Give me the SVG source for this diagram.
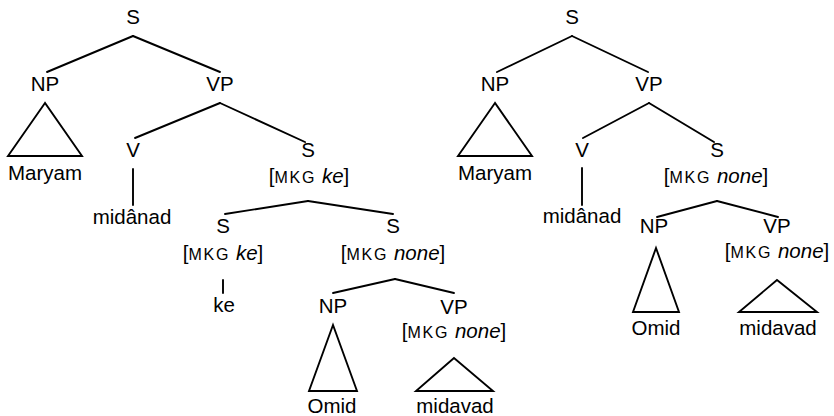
<svg xmlns="http://www.w3.org/2000/svg" width="834" height="416" viewBox="0 0 834 416">
<style>
text{font-family:"Liberation Sans",Arial,sans-serif;font-size:20.5px;fill:#000;text-anchor:middle}
.sc{font-size:16px;letter-spacing:1.8px}
.it{font-style:italic}
line,polygon{stroke:#000;stroke-width:1.9;fill:none;stroke-linecap:round;stroke-linejoin:miter}
</style>
<rect width="834" height="416" fill="#fff"/>
<g id="connectors">
<line x1="133" y1="36" x2="47" y2="72"/>
<line x1="133" y1="36" x2="220" y2="72"/>
<line x1="220" y1="103" x2="135" y2="138"/>
<line x1="220" y1="103" x2="305" y2="142"/>
<line x1="133" y1="169" x2="133" y2="205"/>
<line x1="308" y1="201" x2="225" y2="214"/>
<line x1="308" y1="201" x2="393" y2="214"/>
<line x1="223" y1="280" x2="223" y2="293"/>
<line x1="395" y1="279" x2="333" y2="293"/>
<line x1="395" y1="279" x2="454" y2="293"/>
<line x1="572" y1="36" x2="497" y2="72"/>
<line x1="572" y1="36" x2="648" y2="72"/>
<line x1="649" y1="103" x2="583" y2="138"/>
<line x1="649" y1="103" x2="714" y2="142"/>
<line x1="582" y1="168" x2="582" y2="205"/>
<line x1="717" y1="201" x2="657" y2="217"/>
<line x1="717" y1="201" x2="778" y2="217"/>
</g>
<g id="L_S"><text x="133" y="24">S</text></g>
<g id="L_NP"><text x="45" y="91">NP</text><polygon points="45,103 8,156 82,156"/></g>
<g id="L_Maryam"><text x="45" y="180">Maryam</text></g>
<g id="L_VP"><text x="220" y="91">VP</text></g>
<g id="L_V"><text x="133" y="157">V</text></g>
<g id="L_midanad"><text x="132" y="224">midânad</text></g>
<g id="L_S2"><text x="308" y="157">S</text><text x="309" y="183">[<tspan class="sc">MKG</tspan> <tspan class="it">ke</tspan>]</text></g>
<g id="L_S3"><text x="223" y="233">S</text><text x="223" y="260">[<tspan class="sc">MKG</tspan> <tspan class="it">ke</tspan>]</text></g>
<g id="L_ke"><text x="224" y="312">ke</text></g>
<g id="L_S4"><text x="393" y="233">S</text><text x="393" y="260">[<tspan class="sc">MKG</tspan> <tspan class="it">none</tspan>]</text></g>
<g id="L_NP2"><text x="333" y="313">NP</text><polygon points="333,325 309,391 357,391"/></g>
<g id="L_Omid"><text x="332" y="413">Omid</text></g>
<g id="L_VP2"><text x="454" y="314">VP</text><text x="454" y="338">[<tspan class="sc">MKG</tspan> <tspan class="it">none</tspan>]</text><polygon points="454,358 416,391 493,391"/></g>
<g id="L_midavad"><text x="455" y="413">midavad</text></g>
<g id="R_S"><text x="572" y="24">S</text></g>
<g id="R_NP"><text x="495" y="91">NP</text><polygon points="495,103 458,156 532,156"/></g>
<g id="R_Maryam"><text x="495" y="180">Maryam</text></g>
<g id="R_VP"><text x="649" y="91">VP</text></g>
<g id="R_V"><text x="582" y="157">V</text></g>
<g id="R_midanad"><text x="582" y="223">midânad</text></g>
<g id="R_S2"><text x="717" y="157">S</text><text x="716" y="183">[<tspan class="sc">MKG</tspan> <tspan class="it">none</tspan>]</text></g>
<g id="R_NP2"><text x="654" y="233">NP</text><polygon points="656,248 633,312 679,312"/></g>
<g id="R_Omid"><text x="656" y="335">Omid</text></g>
<g id="R_VP2"><text x="777" y="233">VP</text><text x="777" y="258">[<tspan class="sc">MKG</tspan> <tspan class="it">none</tspan>]</text><polygon points="777,280 739,312 817,312"/></g>
<g id="R_midavad"><text x="778" y="335">midavad</text></g>
</svg>
